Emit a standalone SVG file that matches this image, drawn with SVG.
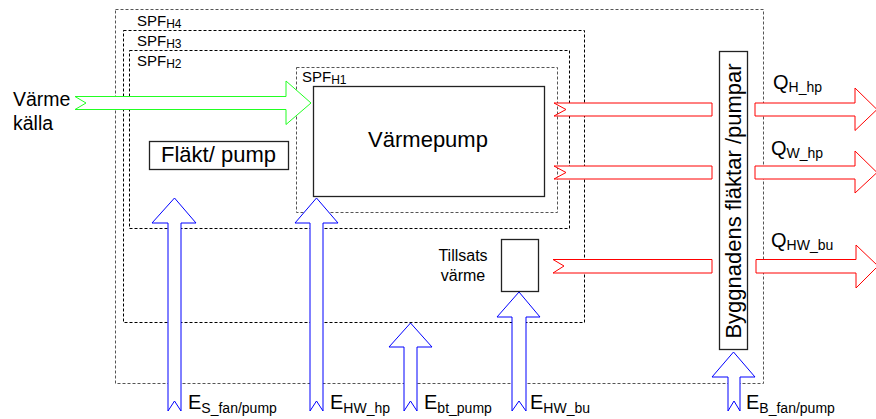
<svg xmlns="http://www.w3.org/2000/svg" width="876" height="419" viewBox="0 0 876 419">
<style>
text{font-family:"Liberation Sans",Arial,sans-serif;fill:#000}
.bd{fill:none;stroke-width:1;stroke-dasharray:3 2}
.box{fill:#fff;stroke:#222;stroke-width:1.3}
.red{fill:#fff;stroke:#f00;stroke-width:1}
.blue{fill:#fff;stroke:#00f;stroke-width:1}
.green{fill:#fff;stroke:#2f2;stroke-width:1}
.big{font-size:20px}
.sub{font-size:14px}
.spf{font-size:15px}
.spfs{font-size:12px}
</style>
<rect width="876" height="419" fill="#fff"/>
<g id="boundaries">
<rect id="spf_h4" class="bd" x="115.5" y="9.5" width="648" height="374" stroke="#555"/>
<rect id="spf_h3" class="bd" x="123.5" y="30.5" width="461" height="292" stroke="#000"/>
<rect id="spf_h2" class="bd" x="129.5" y="50.5" width="440" height="178" stroke="#000"/>
<rect id="spf_h1" class="bd" x="296.5" y="67.5" width="261" height="145" stroke="#555"/>
<text class="spf" x="137" y="26">SPF<tspan class="spfs" dy="2">H4</tspan></text>
<text class="spf" x="137" y="46">SPF<tspan class="spfs" dy="2">H3</tspan></text>
<text class="spf" x="137" y="66">SPF<tspan class="spfs" dy="2">H2</tspan></text>
<text class="spf" x="302" y="82">SPF<tspan class="spfs" dy="2">H1</tspan></text>
</g>
<g id="connectors">
<polygon class="green" points="75,96.5 286,96.5 286,81 311,103 286,124.5 286,109.5 75,109.5 86,103"/>
<polygon class="red" points="554,103 712,103 712,116 554,116 566,109.5"/>
<polygon class="red" points="554,166 712,166 712,179 554,179 566,172.5"/>
<polygon class="red" points="553,259.5 712,259.5 712,273 553,273 564,266"/>
<polygon class="red" points="755,103 855,103 855,88 877,109.5 855,130.5 855,116 755,116"/>
<polygon class="red" points="755,166 855,166 855,151 877,172.5 855,193 855,179 755,179"/>
<polygon class="red" points="756,259.5 856,259.5 856,245 878,266 856,288 856,273 756,273"/>
<polygon class="blue" points="174.5,198 196,223 181,223 181,411 174.5,401 168,411 168,223 152,223"/>
<polygon class="blue" points="316.5,198 338,223 323,223 323,411 316.5,401 310,411 310,223 295,223"/>
<polygon class="blue" points="410.5,323 432,347 417,347 417,411 410.5,401 404,411 404,347 389,347"/>
<polygon class="blue" points="519,292 540,317 526,317 526,411 519,401 512,411 512,317 497,317"/>
<polygon class="blue" points="733.5,352 755,377 740,377 740,411 734,401 728,411 728,377 712,377"/>
</g>
<g id="varmepump">
<rect class="box" x="313.5" y="86.5" width="231" height="110"/>
<text x="428" y="147" font-size="22" text-anchor="middle">Värmepump</text>
</g>
<g id="flakt">
<rect class="box" x="149.5" y="141.5" width="139" height="28"/>
<text x="218.5" y="162" font-size="22" text-anchor="middle">Fläkt/ pump</text>
</g>
<g id="tillsats">
<rect class="box" x="501.5" y="239.5" width="37" height="52"/>
<text x="463" y="261" font-size="16" text-anchor="middle">Tillsats</text>
<text x="463" y="281" font-size="16" text-anchor="middle">värme</text>
</g>
<g id="byggnadens">
<rect class="box" x="719.5" y="51.5" width="28" height="298"/>
<text transform="translate(741,201) rotate(-90)" font-size="22" text-anchor="middle">Byggnadens fläktar /pumpar</text>
</g>
<g id="labels">
<text x="13" y="106" font-size="19.5">Värme</text>
<text x="13" y="130" font-size="19.5">källa</text>
<text class="big" x="773" y="89">Q<tspan class="sub" dy="3">H_hp</tspan></text>
<text class="big" x="771" y="155">Q<tspan class="sub" dy="3">W_hp</tspan></text>
<text class="big" x="771" y="247">Q<tspan class="sub" dy="3">HW_bu</tspan></text>
<text class="big" x="188" y="409">E<tspan class="sub" dy="4">S_fan/pump</tspan></text>
<text class="big" x="330" y="409">E<tspan class="sub" dy="4">HW_hp</tspan></text>
<text class="big" x="424" y="409">E<tspan class="sub" dy="4">bt_pump</tspan></text>
<text class="big" x="530" y="409">E<tspan class="sub" dy="4">HW_bu</tspan></text>
<text class="big" x="746" y="409">E<tspan class="sub" dy="4">B_fan/pump</tspan></text>
</g>
</svg>
